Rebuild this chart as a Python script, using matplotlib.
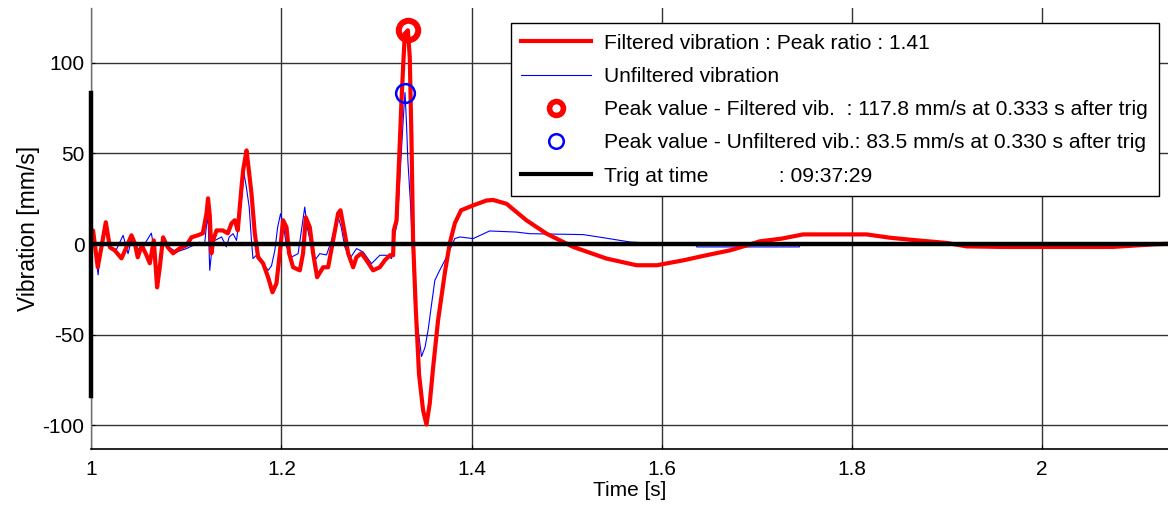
import matplotlib
matplotlib.use("Agg")
import matplotlib.pyplot as plt
from matplotlib.lines import Line2D

plt.rcParams['font.family'] = ['Liberation Sans', 'DejaVu Sans']
plt.rcParams['axes.unicode_minus'] = False

# ---------------- data ----------------
t_filt = [1.0, 1.0017, 1.0066, 1.0105, 1.0151, 1.0194, 1.0245, 1.0316, 1.0368, 1.0421,
          1.0456, 1.0487, 1.053, 1.0579, 1.0614, 1.0656, 1.0691, 1.0719, 1.0754, 1.0803,
          1.0859, 1.0929, 1.1, 1.1053, 1.1119, 1.1172, 1.1211, 1.1227, 1.1245, 1.1263,
          1.128, 1.1316, 1.1382, 1.1435, 1.1474, 1.1508, 1.154, 1.1579, 1.1596, 1.1632,
          1.1648, 1.1684, 1.1719, 1.1754, 1.1806, 1.1859, 1.1905, 1.1947, 1.1982, 1.2017,
          1.2053, 1.208, 1.2122, 1.2193, 1.2227, 1.2256, 1.2298, 1.2333, 1.2375, 1.2438,
          1.2491, 1.2543, 1.2596, 1.2621, 1.2666, 1.2701, 1.2754, 1.2789, 1.2842, 1.2895,
          1.2964, 1.3035, 1.3087, 1.314, 1.3175, 1.3182, 1.3211, 1.3245, 1.3263, 1.328,
          1.3298, 1.333, 1.335, 1.3368, 1.3385, 1.3414, 1.3448, 1.349, 1.3526, 1.356,
          1.3596, 1.3648, 1.3719, 1.377, 1.3824, 1.389, 1.4017, 1.4158, 1.4227, 1.4368,
          1.458, 1.479, 1.507, 1.542, 1.5737, 1.595, 1.6227, 1.647, 1.672, 1.6957,
          1.7035, 1.7266, 1.749, 1.8158, 1.84, 1.8614, 1.9, 1.921, 1.958, 2.075,
          2.117, 2.135]
v_filt = [5, 7.5, -12.8, -1.8, 12.0, -1.8, -3.5, -7.9, -1.8, 4.8,
          0.4, -7.3, -0.7, -6.2, -10.6, 2.0, -23.9, -12.8, 3.7, -1.8,
          -5.1, -2.4, -0.7, 3.7, 4.8, 5.9, 16.9, 25.2, 15.8, -5.1,
          2.0, 7.5, 7.5, 5.9, 11.4, 13.1, 7.5, 31.2, 40.5, 51.6,
          44.5, 27.9, 5.9, -7.3, -10.6, -18.3, -26.6, -21.7, -5.1, 13.1,
          9.2, -5.1, -12.8, -14.5, -5.1, 14.7, 9.2, -5.1, -18.3, -12.8,
          -12.8, 2.0, 16.9, 18.6, 5.9, -5.1, -12.8, -7.3, -5.1, -9.0,
          -14.5, -12.8, -9.0, -6.2, -6.2, 7.5, 13.1, 55.5, 79.2, 97.4,
          116, 117.8, 103, 58, 2, -36.5, -72, -91.6, -99.5, -88,
          -68, -42, -16, 0.2, 11.4, 18.6, 21.3, 24, 24.3, 22.2,
          13, 5.7, -1.6, -8, -11.7, -11.7, -9, -6.2, -3.5, 0.2,
          1.5, 3, 5.3, 5.3, 3.5, 2.4, 0.6, -1.3, -1.6, -1.6,
          -0.2, 0.2]

t_unf = [1.0, 1.002, 1.007, 1.0105, 1.015, 1.0193, 1.0263, 1.0333, 1.0385, 1.042,
         1.05, 1.054, 1.063, 1.066, 1.07, 1.0755, 1.081, 1.0895, 1.1, 1.114,
         1.119, 1.121, 1.1227, 1.1245, 1.128, 1.13, 1.137, 1.142, 1.145, 1.149,
         1.1527, 1.1579, 1.1606, 1.163, 1.166, 1.1684, 1.17, 1.1754, 1.1806, 1.186,
         1.1895, 1.193, 1.196, 1.199, 1.2024, 1.2053, 1.2105, 1.2175, 1.222, 1.2245,
         1.227, 1.2316, 1.235, 1.2403, 1.2474, 1.2526, 1.258, 1.2596, 1.263, 1.2666,
         1.272, 1.2754, 1.279, 1.286, 1.2947, 1.3035, 1.3105, 1.3158, 1.3175, 1.3195,
         1.322, 1.3255, 1.3285, 1.330, 1.3316, 1.333, 1.3358, 1.3385, 1.3403, 1.3438,
         1.3474, 1.351, 1.3543, 1.358, 1.3614, 1.366, 1.3737, 1.3824, 1.3877, 1.4017,
         1.419, 1.447, 1.4613, 1.5175, 1.5386, 1.567, 1.584, 1.600, 1.636, 1.637,
         1.745, 1.746, 2.135]
v_unf = [4, 6, -17, 2, 12, -1.6, -3, 4.8, -5.3, 2,
         -3, -1.6, 6, -3, -20, 3.9, -1.6, -4.4, -2.5, 1,
         -0.5, 10, 15, -14.5, 3.9, 2, 3.9, -1.6, 3.9, 5.7,
         2, 24, 38.8, 31.4, 20.4, 2, -8, -5.3, -10.8, -14.5,
         -12, -3.5, 9.4, 16.7, 9.4, -1.6, -7.2, -5.3, 11.2, 20.4,
         9.4, -1.6, -9, -5.3, -6, 2, 13, 15, 9, -1.6,
         -8, -5.3, -2.5, -4.4, -10.8, -6.2, -6.2, -8, -1, 6,
         12, 45, 72, 83.5, 66, 46, 22, -10.8, -36.5, -47.5,
         -62, -57, -47.5, -33, -20, -15, -7.2, 3, 3.9, 3,
         7.2, 6.6, 5.7, 5.2, 3.5, 1.1, 0.6, 0.0, 0.0, -1.6,
         -1.6, 0.0, 0.0]

peak_filt = (1.333, 117.8)
peak_unf = (1.330, 83.5)
trig_time = 1.0

labels = ["Filtered vibration : Peak ratio : 1.41",
          "Unfiltered vibration",
          "Peak value - Filtered vib.  : 117.8 mm/s at 0.333 s after trig",
          "Peak value - Unfiltered vib.: 83.5 mm/s at 0.330 s after trig",
          "Trig at time            : 09:37:29"]

x_ticks = [1, 1.2, 1.4, 1.6, 1.8, 2]
x_ticklabels = ["1", "1.2", "1.4", "1.6", "1.8", "2"]
y_ticks = [-100, -50, 0, 50, 100]

# ---------------- figure ----------------
fig = plt.figure(figsize=(11.68, 5.12), dpi=100)
ax = fig.add_axes([0.0783, 0.123, 1.0 - 0.0783, 0.861])

ax.set_xlim(1.0, 2.133)
ax.set_ylim(-113, 130)

ax.grid(True, color='#333333', linewidth=1.0, linestyle='-')
ax.set_axisbelow(True)

ax.plot(t_unf, v_unf, color='#0000ff', linewidth=0.8, zorder=3)
ax.plot(t_filt, v_filt, color='#ff0000', linewidth=3.0, zorder=4, solid_joinstyle='round')
# trig lines
ax.axhline(0, color='black', linewidth=3.2, zorder=5)
ax.plot([trig_time, trig_time], [-peak_unf[1], peak_unf[1]], color='black', linewidth=3.2, zorder=5, clip_on=False)

ax.plot([peak_filt[0]], [peak_filt[1]], 'o', markersize=14, markerfacecolor='none',
        markeredgecolor='#ff0000', markeredgewidth=4.3, zorder=6)
ax.plot([peak_unf[0]], [peak_unf[1]], 'o', markersize=13.5, markerfacecolor='none',
        markeredgecolor='#0000ff', markeredgewidth=1.8, zorder=6)

ax.set_xticks(x_ticks)
ax.set_xticklabels(x_ticklabels)
ax.set_yticks(y_ticks)
ax.tick_params(direction='in', length=3, labelsize=15, colors='black')
ax.tick_params(axis='x', pad=8)
ax.tick_params(axis='y', pad=5)

for s in ['top', 'right']:
    ax.spines[s].set_visible(False)
ax.spines['left'].set_color('#707070')
ax.spines['left'].set_linewidth(1.0)
ax.spines['bottom'].set_color('black')
ax.spines['bottom'].set_linewidth(1.2)

ax.set_xlabel("Time [s]", fontsize=15, labelpad=1)
ax.set_ylabel("Vibration [mm/s]", fontsize=16.5, labelpad=2)

handles = [
    Line2D([], [], color='#ff0000', linewidth=3.0),
    Line2D([], [], color='#0000ff', linewidth=0.8),
    Line2D([], [], linestyle='none', marker='o', markersize=10, markerfacecolor='none',
           markeredgecolor='#ff0000', markeredgewidth=4.0),
    Line2D([], [], linestyle='none', marker='o', markersize=10.5, markerfacecolor='none',
           markeredgecolor='#0000ff', markeredgewidth=1.8),
    Line2D([], [], color='black', linewidth=3.0),
]
leg = ax.legend(handles, labels, loc='upper left', bbox_to_anchor=(0.3897, 0.966),
                fontsize=15.1, frameon=True, fancybox=False, edgecolor='black',
                framealpha=1.0, handlelength=3.3, handletextpad=0.65,
                labelspacing=0.68, borderpad=0.5, borderaxespad=0.0)
leg.get_frame().set_linewidth(1.0)
leg.set_zorder(10)

fig.savefig("out.png", dpi=100)
